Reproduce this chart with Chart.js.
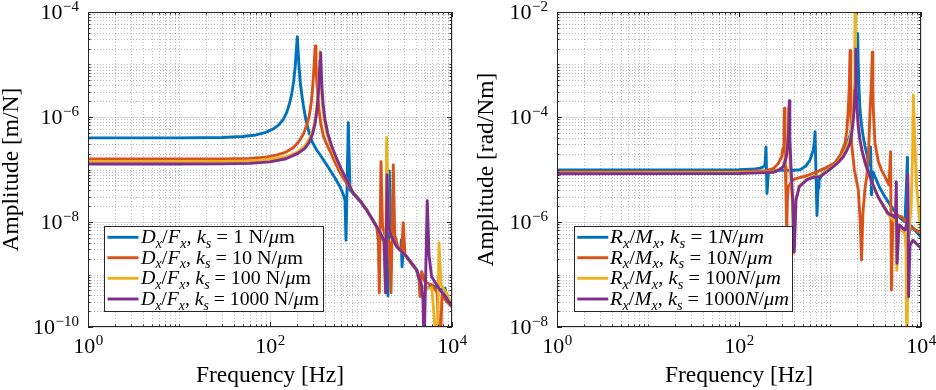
<!DOCTYPE html>
<html><head><meta charset="utf-8">
<script src="https://cdn.jsdelivr.net/npm/chart.js@4.4.1/dist/chart.umd.min.js"></script>
<style>
html,body{margin:0;padding:0;background:#fff;}
#wrap{position:relative;width:936px;height:390px;overflow:hidden;}
canvas{position:absolute;top:0;}
</style></head><body>
<div id="wrap"><canvas id="c1" width="468" height="390" style="left:0"></canvas><canvas id="c2" width="468" height="390" style="left:468px"></canvas></div>
<script>
// ---------- data (frequency [Hz], amplitude) ----------
const ksValues = ['1', '10', '100', '1000'];
const seriesColors = ['#0072BD', '#D95319', '#EDB120', '#7E2F8E'];
const xTickExps = [0, 2, 4];
const yTickExpsDx = [-10, -8, -6, -4];
const yTickExpsRx = [-8, -6, -4, -2];
const xTitle = 'Frequency [Hz]';
const yTitleDx = 'Amplitude [m/N]';
const yTitleRx = 'Amplitude [rad/Nm]';

// D_x/F_x
const dx1 = [[1,4.0e-7],[10,4.0e-7],[30,4.08e-7],[50,4.25e-7],[70,4.55e-7],[90,5.1e-7],[110,6.0e-7],[125,7.1e-7],[140,9.0e-7],[152,1.2e-6],[163,1.75e-6],[173,2.7e-6],[182,4.8e-6],[189,9.0e-6],[194,1.7e-5],[199.6,3.4e-5],[204,1.7e-5],[209,8.5e-6],[216,4.2e-6],[224,2.6e-6],[232,1.7e-6],[246,9.5e-7],[264,5.65e-7],[290,3.4e-7],[326,2.35e-7],[390,1.5e-7],[456,9.8e-8],[520,6.8e-8],[588,4.7e-8],[640,3.3e-8],[667,2.6e-8],[684,4.5e-9],[725,7.8e-7],[757,4.07e-8],[823,3.5e-8],[1000,2.4e-8],[1155,1.69e-8],[1320,1.15e-8],[1487,8.1e-9],[1758,4.5e-9],[1931,4.9e-9],[1981,3.9e-10],[2047,9.35e-8],[2108,7.6e-9],[2467,3.4e-9],[2750,2.9e-9],[2767,4.5e-9],[2824,1.4e-9],[2900,2.6e-9],[3175,2.2e-9],[4090,1.22e-9],[4634,5.9e-10],[5350,5.5e-10],[6000,6.3e-10],[7380,5.1e-10],[8380,5.5e-10],[8810,3.3e-10],[10000,2.44e-10]];
const dx10 = [[1,1.58e-7],[10,1.58e-7],[30,1.59e-7],[60,1.63e-7],[90,1.72e-7],[120,1.9e-7],[150,2.15e-7],[180,2.6e-7],[210,3.5e-7],[235,4.9e-7],[255,7.2e-7],[270,1.05e-6],[283,1.8e-6],[293,3.3e-6],[301,6.5e-6],[308,1.3e-5],[315,2.25e-5],[320,1.1e-5],[326,5.0e-6],[334,2.6e-6],[345,1.4e-6],[360,7.8e-7],[385,4.4e-7],[420,3.0e-7],[456,2.25e-7],[520,1.35e-7],[600,8.2e-8],[697,5.5e-8],[823,3.6e-8],[1000,2.45e-8],[1155,1.7e-8],[1320,1.15e-8],[1487,8.1e-9],[1549,4.5e-9],[1589,4.5e-10],[1660,1.41e-7],[1721,8.8e-9],[1835,5.5e-9],[2030,4.2e-9],[2138,4.5e-10],[2265,1.22e-7],[2350,5.6e-9],[2540,3.4e-9],[2800,2.7e-9],[2915,9.7e-9],[3045,2.35e-9],[3454,1.73e-9],[4090,1.22e-9],[4337,7.85e-10],[4450,3.8e-10],[4645,1.13e-9],[5050,7.2e-10],[6030,6.3e-10],[6840,4.6e-10],[7380,3e-11],[7770,4.1e-10],[8810,3.0e-10],[10000,2.44e-10]];
const dx100 = [[1,1.41e-7],[10,1.41e-7],[30,1.42e-7],[60,1.45e-7],[100,1.55e-7],[150,1.75e-7],[200,2.15e-7],[240,2.8e-7],[270,3.8e-7],[295,5.5e-7],[315,9.0e-7],[328,1.7e-6],[338,3.5e-6],[346,8e-6],[354,1.75e-5],[359,8e-6],[366,3.5e-6],[376,1.8e-6],[392,9.5e-7],[420,5.0e-7],[460,3.0e-7],[520,1.75e-7],[600,1.0e-7],[697,6.3e-8],[823,3.55e-8],[1000,2.4e-8],[1155,1.69e-8],[1320,1.15e-8],[1487,8.1e-9],[1790,4.5e-9],[1850,4.5e-10],[1915,4.1e-7],[2005,8.8e-9],[2138,5.5e-9],[2467,3.4e-9],[3175,2.2e-9],[4090,1.22e-9],[4634,5.9e-10],[5350,5.5e-10],[6000,5.6e-10],[6890,3e-11],[7200,4.0e-9],[7570,6.3e-10],[8590,4.6e-10],[10000,2.5e-10]];
const dx1000 = [[1,1.27e-7],[10,1.27e-7],[30,1.28e-7],[60,1.31e-7],[100,1.4e-7],[150,1.6e-7],[200,2.0e-7],[240,2.5e-7],[270,3.3e-7],[295,4.8e-7],[315,8.0e-7],[330,1.45e-6],[341,3.0e-6],[349,6.5e-6],[355,1.2e-5],[361,1.68e-5],[366,7.5e-6],[373,3.5e-6],[383,1.8e-6],[400,9.5e-7],[430,5.0e-7],[470,3.0e-7],[530,1.75e-7],[610,1.0e-7],[697,6.3e-8],[823,3.5e-8],[1000,2.4e-8],[1155,1.69e-8],[1320,1.15e-8],[1487,8.1e-9],[1790,4.5e-9],[1868,4.5e-10],[1931,7.85e-8],[2005,8.8e-9],[2138,5.5e-9],[2467,3.4e-9],[3175,2.2e-9],[4090,1.22e-9],[4645,5.9e-10],[4800,3.27e-10],[4920,3e-11],[5350,2.55e-8],[5590,2.35e-9],[5970,9.1e-10],[7380,5.07e-10],[8590,3.7e-10],[10000,2.44e-10]];

// R_x/M_x
const rx1 = [[1,9.8e-6],[100,9.9e-6],[150,1.03e-5],[170,1.06e-5],[185,1.12e-5],[193,1.22e-5],[198,2.7e-5],[203,3.5e-6],[211,9.3e-6],[282,9.7e-6],[400,9.7e-6],[468,9.9e-6],[540,1.15e-5],[603,1.52e-5],[656,2.35e-5],[675,3.5e-5],[685,5.25e-5],[719,1.33e-6],[740,4.5e-6],[757,6.3e-6],[830,8.2e-6],[920,9.8e-6],[1135,1.31e-5],[1300,1.8e-5],[1462,2.6e-5],[1560,3.3e-5],[1660,4.5e-5],[1750,7e-5],[1803,1.1e-4],[1880,2.3e-4],[1931,5e-4],[1975,1.2e-3],[2015,3.9e-3],[2040,1.2e-3],[2083,3.5e-4],[2138,1.36e-4],[2220,7e-5],[2306,4.5e-5],[2420,2.8e-5],[2529,2.04e-5],[2685,1.22e-5],[2793,2.7e-5],[2855,3.3e-6],[2972,9e-6],[3123,7.3e-6],[3500,4.6e-6],[4020,3.0e-6],[4962,1.72e-6],[5875,1.2e-6],[6670,1.0e-6],[7100,1.71e-5],[7230,5e-7],[7770,8.4e-7],[10000,5.2e-7]];
const rx10 = [[1,9.0e-6],[100,9.1e-6],[201,9.5e-6],[240,1.05e-5],[270,1.3e-5],[294,1.75e-5],[305,2.6e-5],[312,4.2e-5],[316,1.47e-4],[320,3e-5],[323,1.13e-5],[328,4e-6],[334,7e-7],[340,2.5e-6],[348,4.7e-6],[389,6.3e-6],[431,6.8e-6],[555,7.6e-6],[714,9e-6],[920,1.1e-5],[1135,1.35e-5],[1300,1.9e-5],[1462,3.16e-5],[1530,5.5e-5],[1588,1.36e-4],[1625,3.5e-4],[1660,1.83e-3],[1690,1.5e-4],[1731,3.0e-5],[1850,1.0e-5],[2047,4.07e-6],[2150,1.0e-6],[2220,1.89e-7],[2300,1.5e-6],[2420,4.2e-6],[2530,7.3e-6],[2650,2.0e-5],[2754,1.36e-4],[2850,4e-4],[2917,1.71e-3],[2960,4e-4],[2992,1.36e-4],[3123,3.16e-5],[3400,1.4e-5],[3700,9.5e-6],[4020,7.3e-6],[4450,5.07e-6],[4634,2.18e-5],[4730,5.07e-8],[4920,1.36e-6],[6138,1.26e-6],[7570,8.1e-7],[10000,6.1e-7]];
const rx100 = [[1,8.6e-6],[100,8.7e-6],[238,9.0e-6],[280,1.02e-5],[307,1.15e-5],[325,1.6e-5],[335,2.4e-5],[343,4.5e-5],[350,1.5e-4],[357,3e-5],[365,1.1e-5],[385,2.5e-6],[398,2.5e-7],[420,2.6e-6],[460,4.9e-6],[560,6.6e-6],[656,7.3e-6],[776,7.6e-6],[920,9.5e-6],[1087,1.15e-5],[1250,1.45e-5],[1400,1.9e-5],[1530,2.6e-5],[1660,4e-5],[1750,7.5e-5],[1803,1.4e-4],[1850,4e-4],[1872,1.5e-3],[1883,1.5e-2],[1895,1.5e-3],[1920,4e-4],[1960,1.5e-4],[2047,6.5e-5],[2140,3.5e-5],[2244,2.2e-5],[2450,1.25e-5],[2667,8e-6],[3000,4.8e-6],[3380,2.9e-6],[4335,1.4e-6],[5190,1.0e-6],[5310,2.6e-6],[5420,1.2e-7],[5730,7.8e-7],[6670,6e-7],[6840,3e-7],[6966,3e-9],[7300,5e-7],[7800,2e-6],[8100,2.5e-5],[8230,2.6e-4],[8600,2.5e-5],[8950,4.7e-6],[10000,6e-7]];
const rx1000 = [[1,8.3e-6],[100,8.4e-6],[238,8.8e-6],[280,1.0e-5],[307,1.13e-5],[330,1.7e-5],[339,2.35e-5],[350,5e-5],[357,2.04e-4],[362,4e-5],[373,1.13e-5],[389,2.62e-6],[405,2.7e-7],[423,2.6e-6],[460,4.7e-6],[560,6.4e-6],[656,7.1e-6],[776,7.3e-6],[920,9.0e-6],[1087,1.13e-5],[1250,1.4e-5],[1400,1.75e-5],[1530,2.3e-5],[1660,3.16e-5],[1750,5.5e-5],[1803,8.8e-5],[1850,1.6e-4],[1883,3.3e-4],[1905,9e-4],[1916,1.95e-3],[1930,6e-4],[1965,2e-4],[2047,6.5e-5],[2140,3.6e-5],[2244,2.35e-5],[2450,1.3e-5],[2667,8.5e-6],[3000,4.9e-6],[3380,3.03e-6],[4335,1.47e-6],[5250,1.2e-6],[5355,5.86e-6],[5450,1.63e-7],[5730,8.8e-7],[6670,7e-7],[7050,1e-6],[7160,7.85e-6],[7310,3.78e-8],[7570,3.6e-7],[8170,4.5e-7],[10000,3.15e-7]];

// ---------- drawing ----------
const SERIF = '"Liberation Serif", "DejaVu Serif", serif';
const MINUS = '\u2212';

function gridValues(e0, e1) {
  const out = [];
  for (let e = e0; e <= e1; e++) {
    for (let k = 1; k <= 9; k++) {
      if (e === e1 && k > 1) break;
      out.push({ v: k * Math.pow(10, e), major: k === 1 && (e - e0) % 2 === 0 });
    }
  }
  return out;
}

function richWidth(ctx, segs, size) {
  let w = 0;
  segs.forEach(s => {
    const fs = s.sub ? size * 0.7 : size;
    ctx.font = (s.it ? 'italic ' : '') + fs + 'px ' + SERIF;
    w += ctx.measureText(s.t).width;
  });
  return w;
}
function drawRich(ctx, x, y, segs, size, target) {
  const nat = richWidth(ctx, segs, size);
  const sx = target ? target / nat : 1;
  ctx.save();
  ctx.translate(x, y);
  ctx.scale(sx, 1);
  let cx = 0;
  segs.forEach(s => {
    const fs = s.sub ? size * 0.7 : size;
    ctx.font = (s.it ? 'italic ' : '') + fs + 'px ' + SERIF;
    ctx.fillText(s.t, cx, s.sub ? size * 0.24 : 0);
    cx += ctx.measureText(s.t).width;
  });
  ctx.restore();
}

function powLabelWidth(ctx, exp) {
  ctx.font = '22px ' + SERIF; const w1 = ctx.measureText('10').width;
  ctx.font = '15px ' + SERIF; const w2 = ctx.measureText(String(exp).replace('-', MINUS)).width;
  return [w1, w2];
}
function drawPow(ctx, x, yBase, exp) {
  const e = String(exp).replace('-', MINUS);
  ctx.font = '22px ' + SERIF; ctx.fillText('10', x, yBase);
  const w1 = ctx.measureText('10').width;
  ctx.font = '15px ' + SERIF; ctx.fillText(e, x + w1 + 0.5, yBase - 8.5);
}

function decor(cfg) {
  return {
    id: 'decor',
    beforeDatasetsDraw(chart) {
      const { ctx, chartArea: a, scales: { x, y } } = chart;
      const xv = gridValues(0, 4), yv = gridValues(cfg.yE0, cfg.yE1);
      ctx.save();
      ctx.lineWidth = 1;
      ctx.setLineDash([1, 2]);
      ctx.strokeStyle = 'rgba(0,0,0,0.26)';
      ctx.beginPath();
      xv.forEach(t => { if (t.major) return; const px = Math.round(x.getPixelForValue(t.v)) + 0.5; ctx.moveTo(px, a.top); ctx.lineTo(px, a.bottom); });
      yv.forEach(t => { if (t.major) return; const py = Math.round(y.getPixelForValue(t.v)) + 0.5; ctx.moveTo(a.left, py); ctx.lineTo(a.right, py); });
      ctx.stroke();
      ctx.setLineDash([]);
      ctx.strokeStyle = 'rgba(0,0,0,0.13)';
      ctx.beginPath();
      xv.forEach(t => { if (!t.major) return; const px = Math.round(x.getPixelForValue(t.v)) + 0.5; ctx.moveTo(px, a.top); ctx.lineTo(px, a.bottom); });
      yv.forEach(t => { if (!t.major) return; const py = Math.round(y.getPixelForValue(t.v)) + 0.5; ctx.moveTo(a.left, py); ctx.lineTo(a.right, py); });
      ctx.stroke();
      ctx.restore();
    },
    afterDatasetsDraw(chart) {
      const { ctx, chartArea: a, scales: { x, y } } = chart;
      const xv = gridValues(0, 4), yv = gridValues(cfg.yE0, cfg.yE1);
      ctx.save();
      // box
      ctx.strokeStyle = '#262626'; ctx.lineWidth = 1;
      ctx.strokeRect(a.left + 0.5, a.top + 0.5, a.right - a.left - 1, a.bottom - a.top - 1);
      // ticks (inward, all four sides)
      ctx.beginPath();
      xv.forEach(t => {
        const px = Math.round(x.getPixelForValue(t.v)) + 0.5, L = t.major ? 5 : 2.5;
        ctx.moveTo(px, a.bottom); ctx.lineTo(px, a.bottom - L);
        ctx.moveTo(px, a.top); ctx.lineTo(px, a.top + L);
      });
      yv.forEach(t => {
        const py = Math.round(y.getPixelForValue(t.v)) + 0.5, L = t.major ? 5 : 2.5;
        ctx.moveTo(a.left, py); ctx.lineTo(a.left + L, py);
        ctx.moveTo(a.right, py); ctx.lineTo(a.right - L, py);
      });
      ctx.stroke();
      // tick labels
      ctx.fillStyle = '#000'; ctx.textAlign = 'left'; ctx.textBaseline = 'alphabetic';
      xTickExps.forEach(e => {
        const px = x.getPixelForValue(Math.pow(10, e));
        const [w1, w2] = powLabelWidth(ctx, e);
        drawPow(ctx, px - (w1 + w2) / 2, a.bottom + 26, e);
      });
      cfg.yTicks.forEach(e => {
        const py = y.getPixelForValue(Math.pow(10, e));
        const [w1, w2] = powLabelWidth(ctx, e);
        drawPow(ctx, a.left - 9 - (w1 + w2 + 0.5), py + 7, e);
      });
      // axis titles
      ctx.font = '23.5px ' + SERIF; ctx.textAlign = 'center';
      ctx.fillText(xTitle, (a.left + a.right) / 2, 382);
      ctx.save();
      ctx.translate(cfg.yTitleX, (a.top + a.bottom) / 2);
      ctx.rotate(-Math.PI / 2);
      ctx.fillText(cfg.yTitle, 0, 0);
      ctx.restore();
      // legend
      const L = cfg.legend;
      ctx.fillStyle = '#fff';
      ctx.fillRect(L.x, L.y, L.w, L.h);
      ctx.strokeStyle = '#262626'; ctx.lineWidth = 1;
      ctx.strokeRect(L.x + 0.5, L.y + 0.5, L.w, L.h);
      ctx.textAlign = 'left';
      ksValues.forEach((k, i) => {
        const cy = L.rows[i];
        ctx.strokeStyle = seriesColors[i]; ctx.lineWidth = 2.9;
        ctx.beginPath(); ctx.moveTo(L.lx0, cy); ctx.lineTo(L.lx1, cy); ctx.stroke();
        ctx.fillStyle = '#000';
        drawRich(ctx, L.tx, cy + 6, cfg.legendSegs(k), 19.5, L.widths[i]);
      });
      ctx.restore();
    }
  };
}

function dxSegs(k) {
  return [{t:'D',it:1},{t:'x',it:1,sub:1},{t:'/'},{t:'F',it:1},{t:'x',it:1,sub:1},{t:', '},
          {t:'k',it:1},{t:'s',it:1,sub:1},{t:' = '},{t:k + ' N/'},{t:'\u03bc',it:1},{t:'m'}];
}
function rxSegs(k) {
  return [{t:'R',it:1},{t:'x',it:1,sub:1},{t:'/'},{t:'M',it:1},{t:'x',it:1,sub:1},{t:', '},
          {t:'k',it:1},{t:'s',it:1,sub:1},{t:' = '},{t:k},{t:'N',it:1},{t:'/'},{t:'\u03bc',it:1},{t:'m',it:1}];
}

function makeChart(canvasId, series, cfg) {
  return new Chart(document.getElementById(canvasId), {
    type: 'line',
    data: {
      datasets: series.map((s, i) => ({
        data: s.map(p => ({ x: p[0], y: p[1] })),
        borderColor: seriesColors[i],
        borderWidth: 2.9,
        pointRadius: 0,
        tension: 0,
        fill: false,
        clip: 0,
        order: 10 - i,
        borderJoinStyle: 'round',
        borderCapStyle: 'butt'
      }))
    },
    options: {
      responsive: false,
      animation: false,
      devicePixelRatio: 1,
      events: [],
      layout: { padding: { left: cfg.padL, right: cfg.padR, top: 12, bottom: 63 } },
      plugins: { legend: { display: false }, tooltip: { enabled: false } },
      scales: {
        x: { type: 'logarithmic', min: 1, max: 1e4, display: false },
        y: { type: 'logarithmic', min: Math.pow(10, cfg.yE0), max: Math.pow(10, cfg.yE1), display: false }
      }
    },
    plugins: [decor(cfg)]
  });
}

makeChart('c1', [dx1, dx10, dx100, dx1000], {
  padL: 88, padR: 16, yE0: -10, yE1: -4, yTicks: yTickExpsDx, yTitle: yTitleDx, yTitleX: 18,
  legend: { x: 104, y: 226, w: 219, h: 85, rows: [237.3, 257.7, 278.3, 299], lx0: 107.5, lx1: 138.5, tx: 141, widths: [154, 162, 170, 178] },
  legendSegs: dxSegs
});
makeChart('c2', [rx1, rx10, rx100, rx1000], {
  padL: 89, padR: 15, yE0: -8, yE1: -2, yTicks: yTickExpsRx, yTitle: yTitleRx, yTitleX: 25,
  legend: { x: 106, y: 226, w: 218, h: 85, rows: [237.3, 257.7, 278.3, 299], lx0: 109.3, lx1: 140.3, tx: 142, widths: [154, 162.5, 170.8, 179] },
  legendSegs: rxSegs
});
</script>
</body></html>
